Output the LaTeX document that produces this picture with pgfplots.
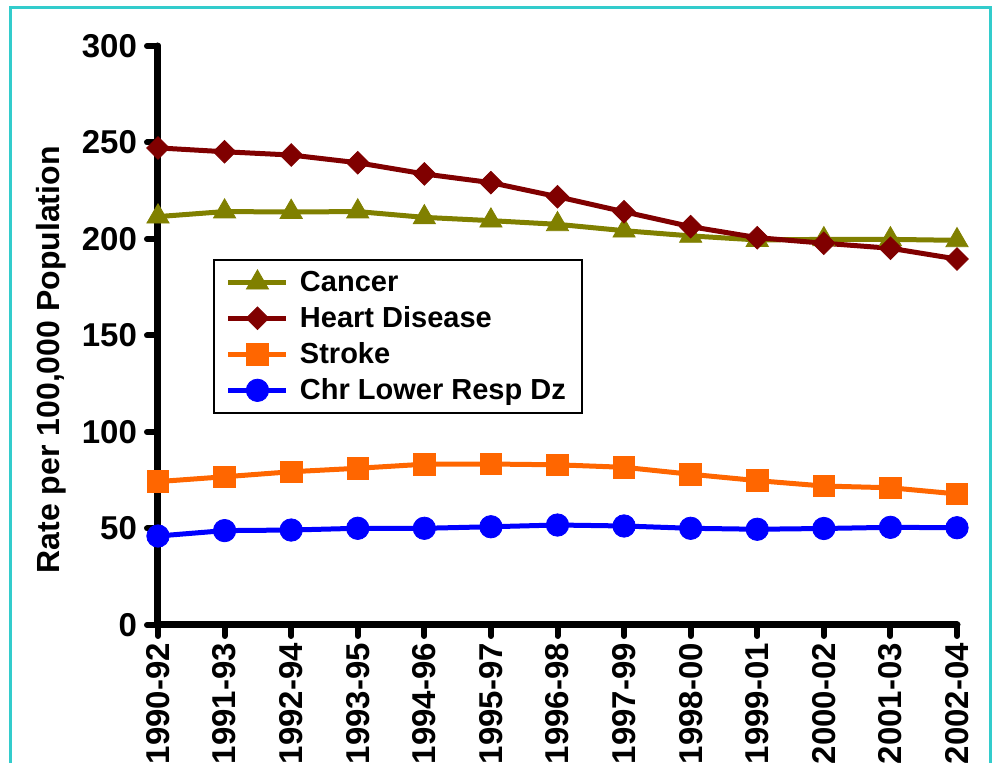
\documentclass[border=0pt]{standalone}
\usepackage{fontspec}
\setmainfont{Liberation Sans}
\usepackage{pgfplots}
\pgfplotsset{compat=1.18}

\definecolor{cancer}{HTML}{808000}
\definecolor{heart}{HTML}{800000}
\definecolor{stroke}{HTML}{FF6600}
\definecolor{clrd}{HTML}{0000FF}
\definecolor{frame}{HTML}{33CCCC}

\newcommand{\chartfont}{\fontsize{14.5}{17}\selectfont\bfseries}
\newcommand{\tickfont}{\fontsize{16.5}{19}\selectfont\bfseries}
\newcommand{\labelfont}{\fontsize{16}{19}\selectfont\bfseries}

\begin{document}
\begin{tikzpicture}
\useasboundingbox (-79pt,-69pt) rectangle (419.5pt,312.5pt);
\draw[color=frame, line width=1.5pt] (-73.5pt,-69pt) -- (-73.5pt,308.5pt) -- (416pt,308.5pt) -- (416pt,-69pt);
\begin{axis}[
    scale only axis, width=399.5pt, height=289.5pt,
    xmin=0, xmax=12, ymin=0, ymax=300,
    clip=false,
    axis x line*=bottom, axis y line*=left,
    axis line style={line width=3.5pt, line cap=round},
    xtick={0,...,12},
    xticklabels={1990-92,1991-93,1992-94,1993-95,1994-96,1995-97,1996-98,1997-99,1998-00,1999-01,2000-02,2001-03,2002-04},
    ytick={0,50,...,300},
    tick align=outside, major tick length=5.5pt,
    every tick/.style={black, line width=3pt, line cap=round},
    tick label style={font=\tickfont},
    x tick label style={rotate=90, anchor=east},
    y tick label style={xshift=-1.5pt},
    /pgf/number format/assume math mode=true,
    ylabel={Rate per 100,000 Population},
    ylabel style={at={(axis description cs:-0.134,0.458)}, anchor=center, font=\labelfont},
    legend style={at={(axis description cs:0.0688,0.632)}, anchor=north west,
        draw=black, line width=1pt, fill=white, font=\chartfont,
        row sep=2pt, inner xsep=6pt, inner ysep=3.5pt},
    legend cell align=left,
    legend image code/.code={\draw[mark repeat=2,mark phase=2] plot coordinates {(0pt,0pt) (14.5pt,0pt) (29pt,0pt)};
        \path (32.5pt,0pt);},
    every axis plot/.append style={line width=2.5pt},
]
\addplot[color=cancer, mark=triangle*, mark size=6.4pt, mark options={line width=0.4pt}] coordinates {
  (0,211.6) (1,214.2) (2,214.0) (3,214.2) (4,211.2) (5,209.5) (6,207.6)
  (7,204.3) (8,201.6) (9,199.5) (10,199.8) (11,199.8) (12,199.3)};
\addlegendentry{Cancer}
\addplot[color=heart, mark=square*, mark size=4pt, mark options={rotate=45, line width=0.4pt}] coordinates {
  (0,247.2) (1,245.2) (2,243.5) (3,239.5) (4,233.7) (5,229.2) (6,221.9)
  (7,214.1) (8,206.4) (9,200.7) (10,197.8) (11,195.2) (12,189.6)};
\addlegendentry{Heart Disease}
\addplot[color=stroke, mark=square*, mark size=5.4pt, mark options={line width=0.4pt}] coordinates {
  (0,74.3) (1,76.8) (2,79.4) (3,81.2) (4,83.3) (5,83.4) (6,83.0)
  (7,81.7) (8,78.1) (9,74.8) (10,72.0) (11,71.1) (12,67.9)};
\addlegendentry{Stroke}
\addplot[color=clrd, mark=*, mark size=5.6pt, mark options={line width=0.4pt}] coordinates {
  (0,46.1) (1,48.9) (2,49.2) (3,50.1) (4,50.1) (5,50.9) (6,51.8)
  (7,51.3) (8,50.1) (9,49.6) (10,50.0) (11,50.6) (12,50.4)};
\addlegendentry{Chr Lower Resp Dz}
\end{axis}
\end{tikzpicture}
\end{document}
